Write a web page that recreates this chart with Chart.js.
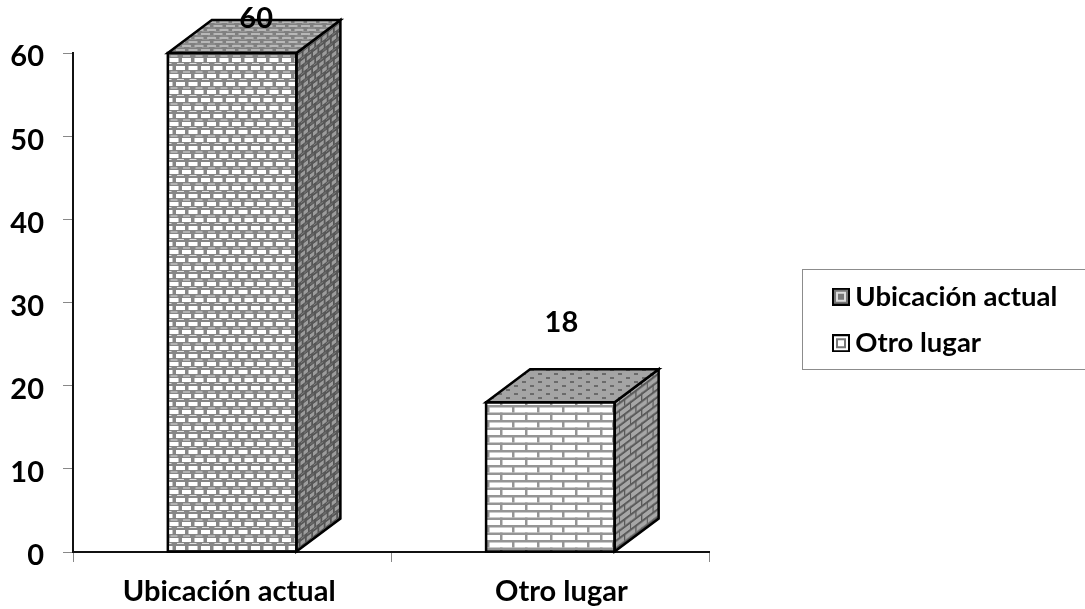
<!DOCTYPE html>
<html>
<head>
<meta charset="utf-8">
<style>
  html, body { margin: 0; padding: 0; background: #fff; }
  #wrap { width: 1085px; height: 609px; position: relative; }
</style>
<script src="https://cdn.jsdelivr.net/npm/chart.js@4"></script>
</head>
<body>
<div id="wrap"><canvas id="chart" width="1085" height="609"></canvas></div>
<script>
const categories = ['Ubicación actual', 'Otro lugar'];
const values = [60, 18];
const yTicks = [0, 10, 20, 30, 40, 50, 60];

const FONT = 'Lato, "Open Sans", sans-serif';
const DEPTH_X = 44, DEPTH_Y = 33;
// hand placed value labels, the second one floats well above its bar
const labelShift = [[24, -34], [11, -80]];
const xLabelShift = [-3, 11];

function tile(w, h, draw) {
    const c = document.createElement('canvas');
    c.width = w; c.height = h;
    draw(c.getContext('2d'));
    return c;
}

function latticeTile(light, grey, line) {
    return tile(25, 16, g => {
        g.fillStyle = grey; g.fillRect(0, 0, 25, 16);
        g.fillStyle = light;
        g.fillRect(1, 2, 9, 4); g.fillRect(13.5, 2, 9, 4);
        g.fillRect(7, 10, 9, 4); g.fillRect(19.5, 10, 9, 4); g.fillRect(-5.5, 10, 9, 4);
        g.fillStyle = line;
        g.fillRect(8, 7.5, 7, 1); g.fillRect(20.5, 7.5, 7, 1); g.fillRect(-4.5, 7.5, 7, 1);
        g.fillRect(2, 15, 7, 1); g.fillRect(14.5, 15, 7, 1);
    });
}

function brickTile(bg, mortar) {
    return tile(50, 15, g => {
        g.fillStyle = bg; g.fillRect(0, 0, 50, 15);
        g.fillStyle = mortar;
        g.fillRect(0, 0, 50, 2.5); g.fillRect(0, 7.5, 50, 2.5);
        g.fillRect(12, 0, 2.5, 7.5); g.fillRect(37, 0, 2.5, 7.5);
        g.fillRect(0, 7.5, 2.5, 7.5); g.fillRect(25, 7.5, 2.5, 7.5);
    });
}

function dotTile() {
    return tile(16, 8, g => {
        g.fillStyle = '#a4a4a4'; g.fillRect(0, 0, 16, 8);
        g.fillStyle = '#6a6a6a';
        g.fillRect(2, 1, 4, 2); g.fillRect(10, 5, 4, 2);
    });
}

function swatch(kind) {
    return tile(18, 18, g => {
        g.fillStyle = kind === 0 ? '#777' : '#fff';
        g.fillRect(1, 1, 16, 16);
        g.strokeStyle = kind === 0 ? '#ddd' : '#777';
        g.lineWidth = 2;
        g.strokeRect(5, 5, 8, 8);
        g.strokeStyle = '#000';
        g.lineWidth = 2;
        g.strokeRect(1, 1, 16, 16);
    });
}

const ctx = document.getElementById('chart').getContext('2d');

function sheared(c, a, b, d) {
    const p = ctx.createPattern(c, 'repeat');
    p.setTransform(new DOMMatrix([a, b, 0, d, 0, 0]));
    return p;
}

const frontFaces = [
    ctx.createPattern(latticeTile('#ffffff', '#868686', '#e0e0e0'), 'repeat'),
    ctx.createPattern(brickTile('#ffffff', '#959595'), 'repeat')
];
const topFaces = [
    sheared(latticeTile('#b8b8b8', '#808080', '#a8a8a8'), 1, 0, 0.5),
    sheared(dotTile(), 1, 0, 1)
];
const sideFaces = [
    sheared(latticeTile('#9c9c9c', '#565656', '#7c7c7c'), 0.5, -0.38, 1),
    sheared(brickTile('#a6a6a6', '#5a5a5a'), 0.45, -0.34, 1)
];

const bar3d = {
    id: 'bar3d',
    afterDatasetsDraw(chart) {
        const g = chart.ctx;
        chart.getDatasetMeta(0).data.forEach((bar, i) => {
            const half = bar.width / 2;
            const l = bar.x - half, r = bar.x + half, t = bar.y, b = bar.base;
            g.save();
            g.lineJoin = 'miter';
            g.lineWidth = 2.5;
            g.strokeStyle = '#000';

            g.beginPath();
            g.moveTo(r, t); g.lineTo(r + DEPTH_X, t - DEPTH_Y);
            g.lineTo(r + DEPTH_X, b - DEPTH_Y); g.lineTo(r, b); g.closePath();
            g.fillStyle = sideFaces[i]; g.fill(); g.stroke();

            g.beginPath();
            g.moveTo(l, t); g.lineTo(l + DEPTH_X, t - DEPTH_Y);
            g.lineTo(r + DEPTH_X, t - DEPTH_Y); g.lineTo(r, t); g.closePath();
            g.fillStyle = topFaces[i]; g.fill(); g.stroke();

            g.strokeRect(l, t, r - l, b - t);

            g.fillStyle = '#000';
            g.font = 'bold 29px ' + FONT;
            g.textAlign = 'center';
            g.textBaseline = 'middle';
            g.fillText(values[i], bar.x + labelShift[i][0], bar.y + labelShift[i][1]);
            g.restore();
        });
    }
};

const legendBox = {
    id: 'legendBox',
    afterLayout(chart) {
        const lg = chart.legend;
        const w = lg.width;
        lg.left = 821.5; lg.right = lg.left + w;
        lg.top = 230; lg.bottom = 410;
        // category labels sit a little off their bar centres in the original
        chart.scales.x.getLabelItems().forEach((item, i) => {
            item.options.translation[0] += xLabelShift[i];
        });
    },
    beforeDraw(chart) {
        const g = chart.ctx;
        g.save();
        g.strokeStyle = '#8c8c8c';
        g.lineWidth = 1;
        g.strokeRect(802.5, 269.5, 290, 100);
        g.restore();
    }
};

new Chart(ctx, {
    type: 'bar',
    data: {
        labels: categories,
        datasets: [{
            data: values,
            backgroundColor: frontFaces,
            borderWidth: 0,
            barPercentage: 1,
            categoryPercentage: 0.404
        }]
    },
    options: {
        responsive: false,
        animation: false,
        layout: { padding: { left: 0, top: 53, right: 139, bottom: 0 } },
        plugins: {
            tooltip: { enabled: false },
            legend: {
                position: 'right',
                labels: {
                    color: '#000',
                    font: { family: FONT, size: 27.5, weight: 'bold' },
                    usePointStyle: true,
                    pointStyleWidth: 1,
                    boxHeight: 16,
                    padding: 19,
                    generateLabels() {
                        return categories.map((name, i) => ({
                            text: name,
                            pointStyle: swatch(i),
                            fontColor: '#000',
                            index: i
                        }));
                    }
                }
            }
        },
        scales: {
            x: {
                afterFit(scale) { scale.height = 57; },
                grid: { drawOnChartArea: false, color: '#888', tickLength: 10, offset: true },
                border: { color: '#111', width: 2 },
                ticks: { color: '#000', font: { family: FONT, size: 29, weight: 'bold' }, padding: 12, maxRotation: 0 }
            },
            y: {
                min: 0,
                max: 60,
                afterFit(scale) { scale.width = 73; },
                afterBuildTicks(scale) { scale.ticks = yTicks.map(v => ({ value: v })); },
                grid: { drawOnChartArea: false, color: '#888', tickLength: 10 },
                border: { color: '#111', width: 2 },
                ticks: { color: '#000', font: { family: FONT, size: 29, weight: 'bold' }, padding: 19, labelOffset: 4 }
            }
        }
    },
    plugins: [legendBox, bar3d]
});
</script>
</body>
</html>
